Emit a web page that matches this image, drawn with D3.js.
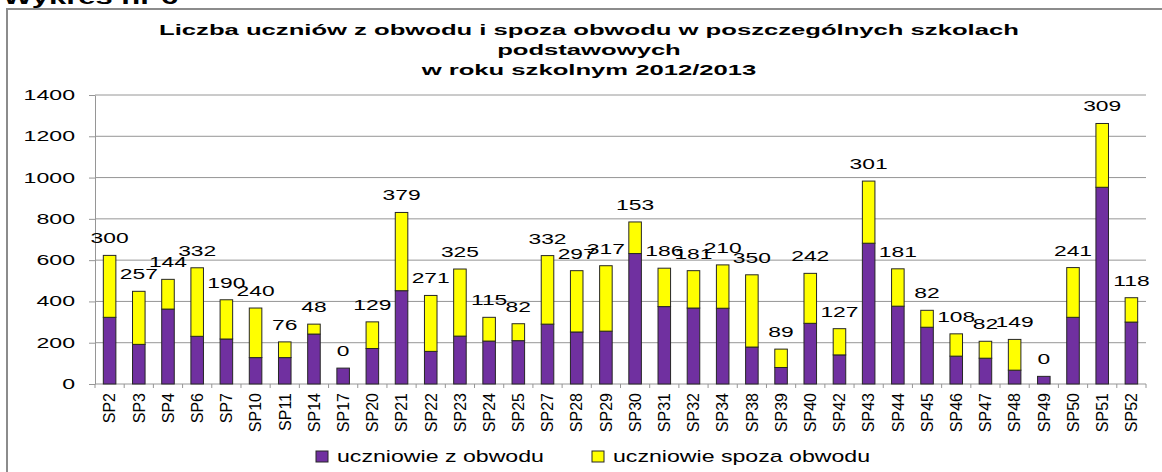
<!DOCTYPE html>
<html>
<head>
<meta charset="utf-8">
<script src="https://cdn.jsdelivr.net/npm/d3@7"></script>
<style>
  body { margin: 0; background: #fff; }
  svg text { font-family: "Liberation Sans", Arial, sans-serif; fill: #000; }
</style>
</head>
<body>
<div id="chart"></div>
<script>
// schools (categories)
const categories = ["SP2","SP3","SP4","SP6","SP7","SP10","SP11","SP14","SP17","SP20","SP21","SP22",
  "SP23","SP24","SP25","SP27","SP28","SP29","SP30","SP31","SP32","SP34","SP38","SP39",
  "SP40","SP42","SP43","SP44","SP45","SP46","SP47","SP48","SP49","SP50","SP51","SP52"];

// pupils from the school district (purple)
const zObwodu = [323,192,363,231,218,128,128,242,77,172,452,158,232,208,210,290,252,256,
  632,375,368,367,179,80,294,141,682,377,275,135,125,67,37,323,953,300];

// pupils from outside the district (yellow) - these are the labels too
const spozaObwodu = [300,257,144,332,190,240,76,48,0,129,379,271,325,115,82,332,297,317,
  153,186,181,210,350,89,242,127,301,181,82,108,82,149,0,241,309,118];

const yTicks = [0,200,400,600,800,1000,1200,1400];
const seriesNames = ["uczniowie z obwodu", "uczniowie spoza obwodu"];
const titleLines = ["Liczba uczniów z obwodu i spoza obwodu w poszczególnych szkolach",
  "podstawowych", "w roku szkolnym 2012/2013"];

const W = 1162, H = 472;
const colors = ["#7030a0", "#ffff00"];

// glyphs in the picture are drawn wide, so stretch text horizontally
function stretch(sel, k) {
  sel.each(function () {
    var w = this.getComputedTextLength();
    d3.select(this).attr("textLength", w * k).attr("lengthAdjust", "spacingAndGlyphs");
  });
}

var svg = d3.select("#chart").append("svg")
  .attr("width", W).attr("height", H);

// header above the frame (cut off at the top)
svg.append("text")
  .attr("x", 3).attr("y", 4)
  .style("font-size", "20px").style("font-weight", "bold")
  .text("Wykres nr 6")
  .call(stretch, 1.55);

// chart frame
svg.append("rect")
  .attr("x", 7).attr("y", 9)
  .attr("width", 1300).attr("height", 600)
  .attr("fill", "none").attr("stroke", "#8c8c8c").attr("stroke-width", 2);

// title
svg.append("g").selectAll("text")
  .data(titleLines)
  .enter().append("text")
    .attr("x", 589)
    .attr("y", function (d, i) { return 35 + i * 20; })
    .attr("text-anchor", "middle")
    .style("font-size", "14px").style("font-weight", "bold")
    .text(function (d) { return d; })
    .call(stretch, 1.83);

var plotLeft = 95, plotRight = 1146, plotTop = 95, plotBottom = 384;

var x = d3.scaleBand()
  .domain(categories)
  .range([plotLeft, plotRight])
  .paddingInner(0.57).paddingOuter(0.285);

var y = d3.scaleLinear()
  .domain([0, 1400])
  .range([plotBottom, plotTop]);

// gridlines
svg.append("g").selectAll("line")
  .data(yTicks.filter(function (d) { return d > 0; }))
  .enter().append("line")
    .attr("x1", plotLeft).attr("x2", plotRight)
    .attr("y1", function (d) { return y(d); })
    .attr("y2", function (d) { return y(d); })
    .attr("stroke", "#969696").attr("stroke-width", 1);

// Y axis
var yAxis = svg.append("g")
  .attr("transform", "translate(" + plotLeft + ",0)")
  .call(d3.axisLeft(y).tickValues(yTicks).tickFormat(d3.format("d"))
    .tickSize(6).tickPadding(14).tickSizeOuter(0));
yAxis.select(".domain").attr("stroke", "#969696");
yAxis.selectAll(".tick line").attr("stroke", "#969696");
yAxis.selectAll(".tick text")
  .attr("font-family", null).attr("font-size", null).attr("fill", null)
  .style("font-size", "14px")
  .call(stretch, 1.65);

// X axis line + ticks between categories
var xa = svg.append("g");
xa.append("line")
  .attr("x1", plotLeft).attr("x2", plotRight)
  .attr("y1", plotBottom).attr("y2", plotBottom)
  .attr("stroke", "#969696");
var step = x.step();
xa.selectAll(".xt")
  .data(d3.range(categories.length + 1))
  .enter().append("line")
    .attr("x1", function (i) { return plotLeft + i * step; })
    .attr("x2", function (i) { return plotLeft + i * step; })
    .attr("y1", plotBottom).attr("y2", plotBottom + 4)
    .attr("stroke", "#969696");

xa.selectAll(".xl")
  .data(categories)
  .enter().append("text")
    .attr("transform", function (d) {
      return "translate(" + (x(d) + x.bandwidth() / 2) + "," + (plotBottom + 9) + ") rotate(-90)";
    })
    .attr("dy", "0.36em")
    .attr("text-anchor", "end")
    .style("font-size", "16px")
    .text(function (d) { return d; });

// stacked bars
var rows = categories.map(function (c, i) {
  return { cat: c, z: zObwodu[i], s: spozaObwodu[i] };
});
var stack = d3.stack().keys(["z", "s"])(rows);

svg.append("g").selectAll("g")
  .data(stack)
  .enter().append("g")
    .attr("fill", function (d, i) { return colors[i]; })
  .selectAll("rect")
  .data(function (d) { return d.filter(function (p) { return p[1] - p[0] > 0; }); })
  .enter().append("rect")
    .attr("x", function (d) { return x(d.data.cat); })
    .attr("width", x.bandwidth())
    .attr("y", function (d) { return y(d[1]); })
    .attr("height", function (d) { return y(d[0]) - y(d[1]); })
    .attr("stroke", "#262626").attr("stroke-width", 1);

// value labels (outside-district count) above each bar
svg.append("g").selectAll("text")
  .data(rows)
  .enter().append("text")
    .attr("x", function (d) { return x(d.cat) + x.bandwidth() / 2; })
    .attr("y", function (d) { return y(d.z + d.s) - 12; })
    .attr("text-anchor", "middle")
    .style("font-size", "14px")
    .text(function (d) { return d.s; })
    .call(stretch, 1.63);

// legend
var legendX = [316, 592];
var lg = svg.append("g").selectAll("g")
  .data(seriesNames)
  .enter().append("g")
    .attr("transform", function (d, i) { return "translate(" + legendX[i] + ",451)"; });
lg.append("rect")
  .attr("width", 12).attr("height", 11)
  .attr("fill", function (d, i) { return colors[i]; })
  .attr("stroke", "#262626");
lg.append("text")
  .attr("x", 21).attr("y", 11)
  .style("font-size", "17px")
  .text(function (d) { return d; })
  .call(stretch, 1.36);
</script>
</body>
</html>
